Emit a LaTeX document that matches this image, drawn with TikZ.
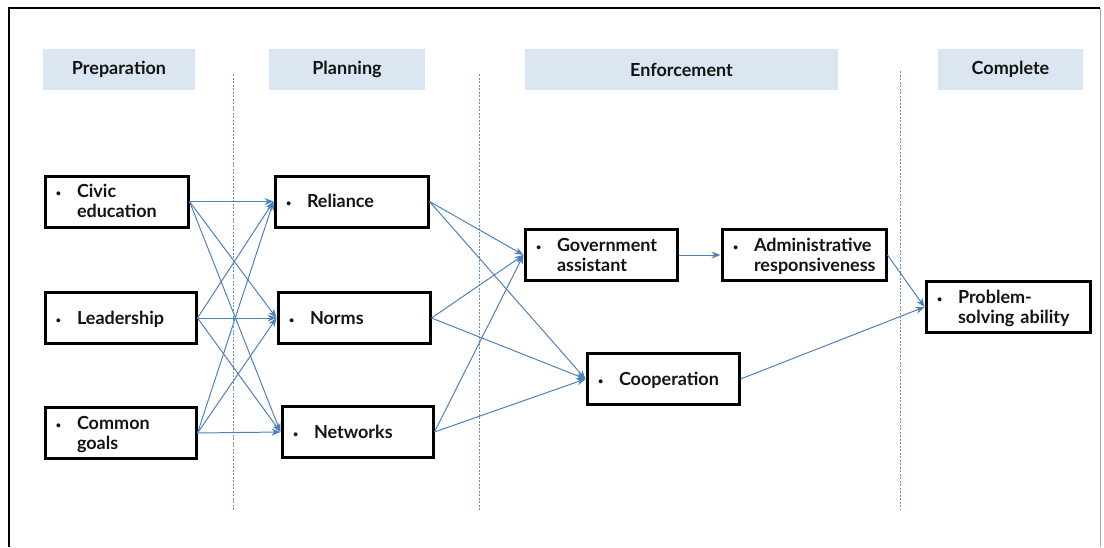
\documentclass[tikz,border=0pt]{standalone}
\usepackage{fontspec}
\setmainfont{Lato}
\usetikzlibrary{arrows.meta}
\definecolor{linkblue}{RGB}{79,129,189}
\definecolor{headfill}{RGB}{220,230,242}
\definecolor{inkdark}{RGB}{20,20,20}
\newcommand{\bul}[1]{\makebox[21pt][l]{\small\raisebox{1pt}{•}}\begin{tabular}[t]{@{}l@{}}#1\end{tabular}}

\begin{document}
\begin{tikzpicture} [
                x=1pt, y=-1pt,
                head/.style = {fill=headfill,minimum height=41,inner sep=0pt,font=\bfseries\fontsize{18}{20}\selectfont,text=inkdark},
                box/.style = {draw=black,line width=3pt,minimum height=51,inner xsep=11pt,inner ysep=0pt,align=left,
                              font=\bfseries\fontsize{18}{20}\selectfont,text=inkdark,
                              execute at begin node={\vspace*{-4pt}}},
                link/.style = {draw=linkblue,line width=1pt,-{Stealth[length=9pt,width=7pt]}},
                divider/.style = {draw=linkblue!90,line width=0.9pt,dash pattern=on 2pt off 1.5pt},
            ]
            \useasboundingbox (0,0) rectangle (1104,547);
            \draw[line width=2pt] (9,547) -- (9,8) -- (1100,8);
            \draw[black!35,line width=0.8pt] (1100,8) -- (1100,547);
            \foreach \pos/\bw/\name/\txt in {
                    {(119,69.5)/152/prep/Preparation}, {(347,69.5)/156/plan/Planning},
                    {(681.5,69.5)/313/enf/Enforcement}, {(1010.5,69)/145/comp/Complete}}
                \node[head,minimum width=\bw] (\name) at \pos {\txt};
            \foreach \x/\ytop in {233/74, 479/74, 900/71}
                \draw[divider] (\x,\ytop) -- (\x,510);
            \foreach \pos/\bw/\name/\txt [evaluate=\bw as \tw using \bw-22] in {
                    {(116.5,201.5)/143/civic/{\bul{Civic\\education}}},
                    {(120.5,318)/151/leader/{\bul{Leadership}}},
                    {(120.5,433)/151/goals/{\bul{Common\\goals}}},
                    {(351.5,201.5)/153/reliance/{\bul{Reliance}}},
                    {(354,318)/152/norms/{\bul{Norms}}},
                    {(357.5,432)/151/networks/{\bul{Networks}}},
                    {(601,255)/152/gov/{\bul{Government\\assistant}}},
                    {(804,255)/164/admin/{\bul{Administrative\\responsiveness}}},
                    {(663,379)/152/coop/{\bul{Cooperation}}},
                    {(1008,307)/164/problem/{\bul{Problem-\\solving ability}}}}
                \node[box,minimum width=\bw,text width=\tw pt] (\name) at \pos {\txt};
            \foreach \source/ \dest in {
                    civic/reliance, civic/norms, civic/networks,
                    leader/reliance, leader/norms, leader/networks,
                    goals/reliance, goals/norms, goals/networks,
                    reliance/gov, norms/gov, networks/gov,
                    reliance/coop, norms/coop, networks/coop,
                    gov/admin, admin/problem, coop/problem}
                \path[link] (\source.east) -- (\dest.west);
        \end{tikzpicture}
\end{document}
